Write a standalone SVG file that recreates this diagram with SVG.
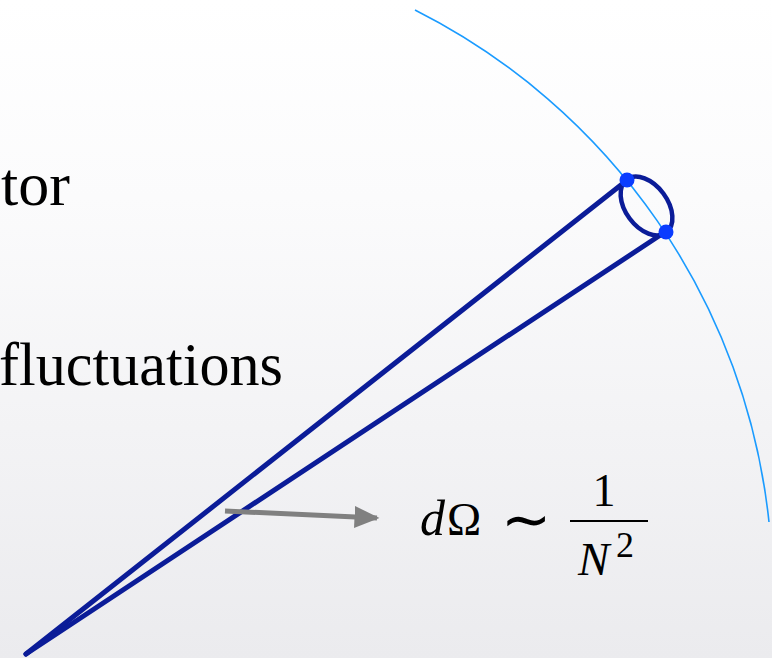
<svg xmlns="http://www.w3.org/2000/svg" width="775" height="658" viewBox="0 0 775 658">
<defs>
<linearGradient id="bg" x1="0" y1="0" x2="0" y2="1">
<stop offset="0" stop-color="#ffffff"/>
<stop offset="0.3" stop-color="#fbfbfc"/>
<stop offset="1" stop-color="#ebebee"/>
</linearGradient>
<marker id="ah" viewBox="0 0 10 10" refX="9" refY="5" markerWidth="5" markerHeight="4.4" orient="auto" markerUnits="strokeWidth" preserveAspectRatio="none">
<path d="M0,0 L10,5 L0,10 z" fill="#808080"/>
</marker>
<style>
text{font-family:'Liberation Serif','Times New Roman',serif;fill:#000}
.cone{stroke:#0b1c98;stroke-width:5;fill:none;stroke-linecap:round}
.dot{fill:#0a3cff}
</style>
</defs>
<rect x="0" y="0" width="775" height="658" fill="url(#bg)"/>
<rect x="772" y="0" width="3" height="658" fill="#ffffff"/>

<g id="sphere">
<path d="M415,10 A650,650 0 0 1 769,522" fill="none" stroke="#1a9bff" stroke-width="1.6"/>
</g>

<g id="labels">
<text x="1" y="205" font-size="62" font-family="Liberation Serif, serif">tor</text>
<text x="-1" y="385" font-size="62" font-family="Liberation Serif, serif" textLength="284" lengthAdjust="spacingAndGlyphs">fluctuations</text>
</g>

<g id="connectors">
<line class="cone" x1="26" y1="654" x2="626" y2="181"/>
<line class="cone" x1="26" y1="654" x2="665" y2="232"/>
<line x1="225" y1="511" x2="377" y2="518" stroke="#808080" stroke-width="5" marker-end="url(#ah)"/>
</g>

<g id="patch">
<ellipse cx="646.5" cy="206" rx="33" ry="21" transform="rotate(53.5 646.5 206)" fill="none" stroke="#0b1c98" stroke-width="4.5"/>
<circle class="dot" cx="627" cy="180" r="7.5"/>
<circle class="dot" cx="666" cy="232" r="7.5"/>
</g>

<g id="formula">
<text x="420" y="535" font-size="50" font-style="italic" font-family="Liberation Serif, serif">d</text>
<text x="447" y="535" font-size="46" font-family="Liberation Serif, serif">Ω</text>
<text x="526" y="540" font-size="60" text-anchor="middle" font-family="DejaVu Serif, serif">∼</text>
<rect x="570" y="520" width="78" height="2" fill="#000"/>
<text x="604" y="506" font-size="46" text-anchor="middle" font-family="Liberation Serif, serif">1</text>
<text x="578" y="575" font-size="47" font-style="italic" font-family="Liberation Serif, serif">N</text>
<text x="616" y="557" font-size="36" font-family="Liberation Serif, serif">2</text>
</g>
</svg>
